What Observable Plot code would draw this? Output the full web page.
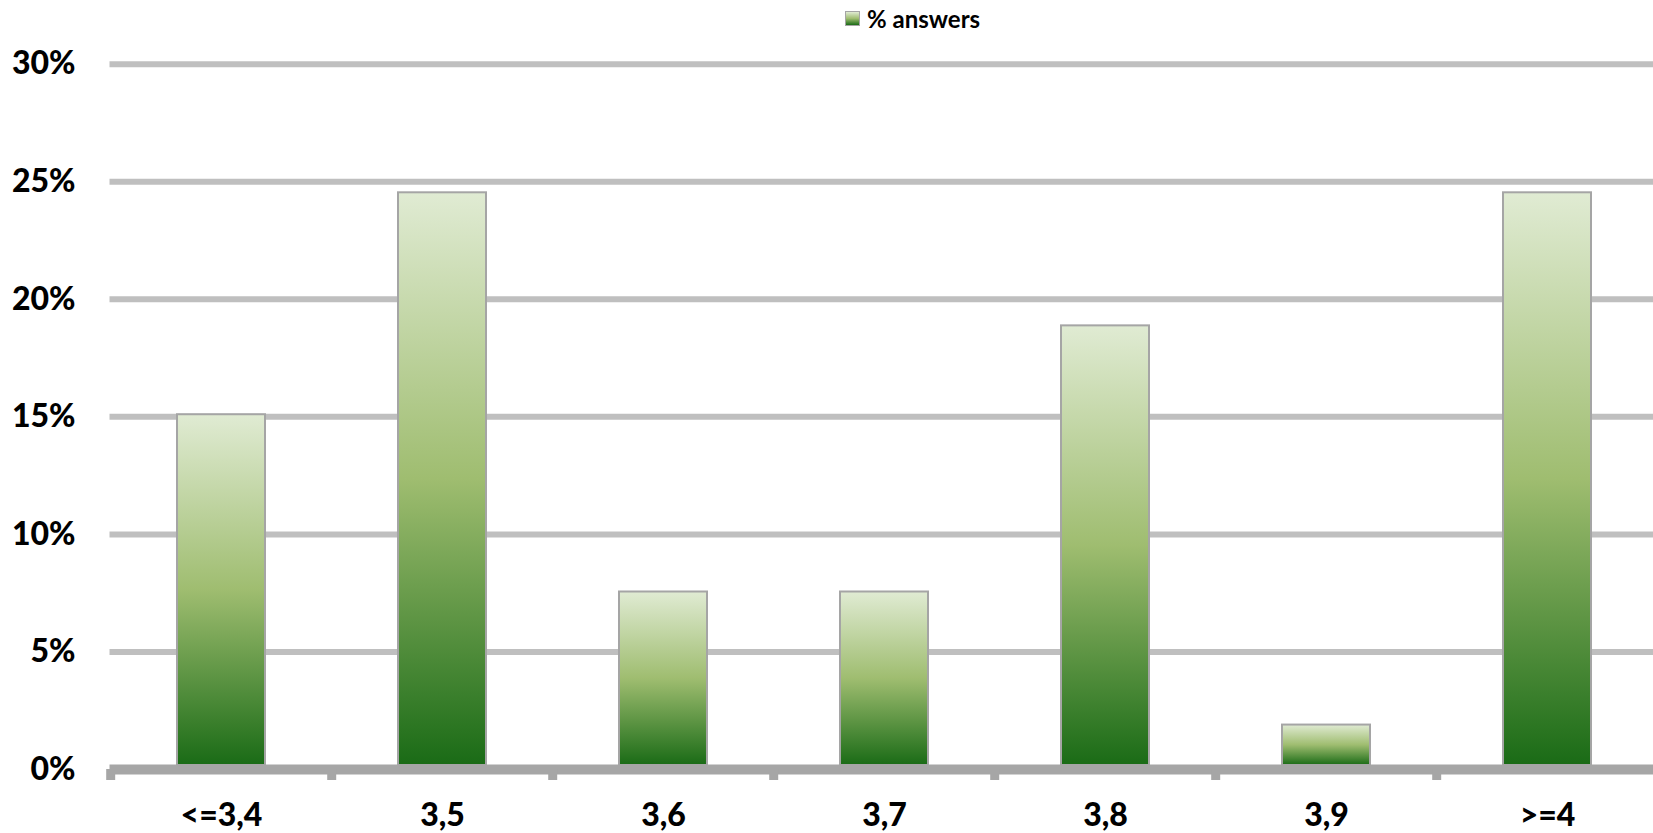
<!DOCTYPE html>
<html>
<head>
<meta charset="utf-8">
<script src="https://cdn.jsdelivr.net/npm/d3@7"></script>
<script src="https://cdn.jsdelivr.net/npm/@observablehq/plot@0.6"></script>
<style>
  html, body { margin: 0; padding: 0; background: #fff; }
  #wrap { position: relative; width: 1653px; height: 833px; overflow: hidden; }
  #legend { position: absolute; left: 845px; top: 4px; font: bold 24px Lato, sans-serif; color: #000; display: flex; align-items: center; white-space: nowrap; }
  #legend .sw { width: 13px; height: 13px; margin-right: 7px; border: 1px solid #a5a5a5; background: linear-gradient(#e0ebd3, #9fbd70 50%, #1a6b16); }
  svg g[aria-label="y-axis tick label"] text, svg g[aria-label="y-axis tick label"] { font-size: 32px; font-weight: 900; }
  svg g[aria-label="x-axis tick label"] text, svg g[aria-label="x-axis tick label"] { font-size: 32px; font-weight: 900; }
</style>
</head>
<body>
<div id="wrap">
  <svg width="0" height="0" style="position:absolute">
    <defs>
      <linearGradient id="barGrad" x1="0" y1="0" x2="0" y2="1">
        <stop offset="0" stop-color="#e0ebd3"/>
        <stop offset="0.5" stop-color="#9fbd70"/>
        <stop offset="1" stop-color="#1a6b16"/>
      </linearGradient>
    </defs>
  </svg>
  <div id="legend"><span class="sw"></span>% answers</div>
  <div id="chart"></div>
</div>
<script>
const categories = ["<=3,4", "3,5", "3,6", "3,7", "3,8", "3,9", ">=4"];
const shares = [0.1509, 0.2453, 0.0755, 0.0755, 0.1887, 0.0189, 0.2453];
const yTicks = [0, 0.05, 0.10, 0.15, 0.20, 0.25, 0.30];

const data = categories.map((c, i) => ({category: c, share: shares[i]}));
const PAD_INNER = 0.6;

function boundaryTicks(index, scales) {
  const x = scales.x, y = scales.y;
  const step = x(categories[1]) - x(categories[0]);
  const y0 = y(0);
  const g = d3.create("svg:g").attr("aria-label", "category boundary ticks");
  for (let i = 0; i <= categories.length; i++) {
    const start = i < categories.length ? x(categories[i]) : x(categories[categories.length - 1]) + step;
    const xb = start - step * PAD_INNER / 2;
    g.append("line")
      .attr("x1", xb).attr("x2", xb)
      .attr("y1", y0).attr("y2", y0 + 11)
      .attr("stroke", "#a6a6a6").attr("stroke-width", 9);
  }
  return g.node();
}

const chart = Plot.plot({
  width: 1653,
  height: 833,
  marginLeft: 109.5,
  marginRight: -5,
  marginTop: 63.7,
  marginBottom: 64,
  style: {fontFamily: "Lato, sans-serif", fontWeight: "bold", color: "#000", background: "transparent", overflow: "visible"},
  x: {domain: categories, paddingInner: PAD_INNER, paddingOuter: PAD_INNER / 2, label: null, tickSize: 0, tickPadding: 34},
  y: {domain: [0, 0.3], ticks: yTicks, tickFormat: d3.format(".0%"), label: null, tickSize: 0, tickPadding: 34.5},
  marks: [
    Plot.ruleY(yTicks.filter(t => t > 0), {stroke: "#bfbfbf", strokeWidth: 6}),
    Plot.barY(data, {x: "category", y: "share", fill: "url(#barGrad)", stroke: "#a5a5a5", strokeWidth: 2, insetBottom: 4}),
    Plot.ruleY([0], {stroke: "#a6a6a6", strokeWidth: 10}),
    boundaryTicks
  ]
});
document.getElementById("chart").appendChild(chart);
</script>
</body>
</html>
